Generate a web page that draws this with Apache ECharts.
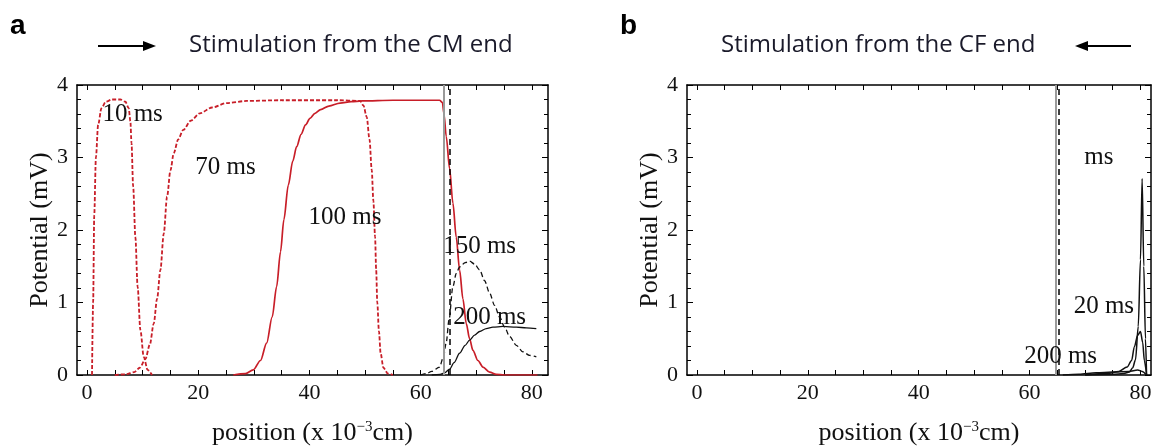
<!DOCTYPE html>
<html><head><meta charset="utf-8">
<script src="https://cdn.jsdelivr.net/npm/echarts@6/dist/echarts.min.js"></script>
<style>html,body{margin:0;padding:0;background:#fff}#c{width:1159px;height:448px}</style>
</head><body><div id="c"></div>
<script>
// ---------- data ----------
const xTickLabels = [0, 20, 40, 60, 80];
const xTicks = [0, 5, 10, 15, 20, 25, 30, 35, 40, 45, 50, 55, 60, 65, 70, 75, 80];
const yTickLabels = [0, 1, 2, 3, 4];

// panel a: stimulation from the CM end
const a10ms = [[0.9,0],[1.1,1.0],[1.3,2.2],[1.6,3.0],[2.0,3.45],[2.6,3.68],[3.4,3.77],[4.5,3.80],[6.0,3.80],[6.9,3.77],[7.5,3.68],[7.8,3.5],[8.0,3.2],[8.3,2.6],[8.7,1.9],[9.1,1.22],[9.6,0.62],[10.2,0.25],[10.9,0.07],[11.7,0]];
const a70ms = [[5,0],[7,0.01],[8.5,0.04],[9.5,0.1],[10.5,0.22],[11.3,0.42],[12,0.71],[12.6,1.05],[13.2,1.45],[13.8,1.95],[14.4,2.46],[15,2.82],[15.6,3.06],[16.4,3.25],[17.3,3.38],[18.7,3.51],[20.3,3.61],[22.5,3.69],[25.1,3.75],[28.7,3.78],[35,3.79],[45,3.79],[49.1,3.78],[49.7,3.72],[50.3,3.56],[50.8,3.25],[51.2,2.83],[51.5,2.4],[51.8,1.91],[52.0,1.45],[52.2,1.0],[52.5,0.6],[52.8,0.3],[53.3,0.1],[54.1,0.02],[55,0]];
const a100ms = [[26.3,0],[28.5,0.02],[29.9,0.07],[31.2,0.2],[32.3,0.44],[33.3,0.8],[34.1,1.22],[34.8,1.7],[35.4,2.14],[36.2,2.62],[37.0,2.95],[37.7,3.15],[38.5,3.32],[39.3,3.45],[40.1,3.54],[41.0,3.61],[42.0,3.66],[43.5,3.71],[45.5,3.75],[47.5,3.77],[49.5,3.78],[55,3.79],[63.4,3.79],[63.9,3.76],[64.2,3.6],[64.6,3.29],[65.2,2.85],[65.8,2.37],[66.4,1.9],[67.0,1.45],[67.6,1.05],[68.2,0.71],[68.8,0.5],[69.4,0.34],[70.3,0.2],[71.2,0.11],[72.4,0.04],[73.6,0.01],[75,0],[81,0]];
const a150ms = [[60,0],[61,0.02],[62,0.05],[63.4,0.11],[64.1,0.25],[64.6,0.45],[65.1,0.76],[65.8,1.22],[66.4,1.4],[67.0,1.49],[68.0,1.55],[68.8,1.57],[69.7,1.53],[70.6,1.45],[71.5,1.3],[72.4,1.13],[73.3,0.96],[74.2,0.80],[75.1,0.66],[76.0,0.53],[77.2,0.41],[78.4,0.32],[79.6,0.27],[80.8,0.25]];
const a200ms = [[62,0],[63.5,0.01],[64.3,0.03],[65.2,0.08],[66,0.17],[67,0.3],[68,0.41],[68.8,0.48],[69.7,0.55],[70.6,0.6],[71.8,0.64],[73,0.66],[74.8,0.67],[77.2,0.66],[79,0.65],[80.8,0.64]];

// panel b: stimulation from the CF end
const b10ms = [[70,0],[75,0.01],[77,0.02],[78,0.04],[78.6,0.1],[79.1,0.21],[79.6,0.67],[80.0,1.59],[80.3,2.71],[80.6,1.5],[80.9,0.5],[81.1,0]];
const b20ms = [[70,0],[74,0.02],[76.1,0.05],[77.6,0.11],[78.4,0.2],[78.9,0.39],[79.5,0.55],[80.0,0.60],[80.4,0.45],[80.7,0.2],[81.1,0]];
const b200ms = [[66,0],[68.9,0.01],[72,0.03],[75,0.04],[77.9,0.05],[79.5,0.07],[80.3,0.05],[81.1,0]];

// boundaries (vertical lines): [gray solid, black dashed]
const boundaryA = [64.2, 65.3];
const boundaryB = [64.7, 65.3];

// curve labels
const labelsA = ['10 ms', '70 ms', '100 ms', '150 ms', '200 ms'];
const labelsAX = [8.2, 24.9, 46.4, 70.6, 72.4];
const labelsAY = [3.59, 2.86, 2.18, 1.77, 0.79];
const labelsB = ['ms', '20 ms', '200 ms'];
const labelsBX = [72.5, 73.4, 65.6];
const labelsBY = [3.0, 0.94, 0.25];

// ---------- chart ----------
const SERIF = 'Liberation Serif';
const RED = '#c81e28';
const INK = '#111';
const chart = echarts.init(document.getElementById('c'));

function xAx(grid, min, max, bottom) {
  return {
    type: 'value', gridIndex: grid, min: min, max: max, position: bottom ? 'bottom' : 'top',
    axisLine: { show: true, onZero: false, lineStyle: { color: '#000', width: 1.5 } },
    axisTick: { show: true, inside: true, length: 5, customValues: xTicks, lineStyle: { color: '#000', width: 1 } },
    axisLabel: { show: bottom, customValues: xTickLabels, fontFamily: SERIF, fontSize: 22, color: INK, margin: 7 },
    splitLine: { show: false },
    name: bottom ? '{n|position (x 10}{s|\u22123}{n|cm)}' : '',
    nameLocation: 'middle', nameGap: 45,
    nameTextStyle: { rich: { n: { fontFamily: SERIF, fontSize: 26, color: INK }, s: { fontFamily: SERIF, fontSize: 15, color: INK, padding: [0, 0, 12, 0] } } }
  };
}
function yAx(grid, left) {
  return {
    type: 'value', gridIndex: grid, min: 0, max: 4, interval: 1, position: left ? 'left' : 'right',
    axisLine: { show: true, onZero: false, lineStyle: { color: '#000', width: 1.5 } },
    axisTick: { show: true, inside: true, length: 6, lineStyle: { color: '#000', width: 1 } },
    minorTick: { show: true, splitNumber: 5, length: 4, lineStyle: { color: '#000', width: 1 } },
    axisLabel: { show: left, fontFamily: SERIF, fontSize: 22, color: INK, margin: 9 },
    splitLine: { show: false }, minorSplitLine: { show: false },
    name: left ? 'Potential (mV)' : '', nameLocation: 'middle', nameGap: 23,
    nameTextStyle: { fontFamily: SERIF, fontSize: 26, color: INK }
  };
}
function line(data, xi, yi, color, type, width) {
  return { type: 'line', xAxisIndex: xi, yAxisIndex: yi, data: data, showSymbol: false, symbol: 'none',
    smooth: 0.3, smoothMonotone: 'x', lineStyle: { color: color, type: type, width: width }, silent: true, z: 3 };
}
function labels(texts, xs, ys, xi, yi, bounds) {
  return { type: 'scatter', xAxisIndex: xi, yAxisIndex: yi, symbolSize: 0, silent: true, z: 5,
    itemStyle: { opacity: 1 },
    data: texts.map((t, i) => ({ name: t, value: [xs[i], ys[i]] })),
    label: { show: true, position: 'inside', formatter: p => p.name, fontFamily: SERIF, fontSize: 25,
      color: INK, textBorderWidth: 0, opacity: 1 },
    markLine: { symbol: 'none', silent: true, label: { show: false }, animation: false,
      data: [
        { xAxis: bounds[0], lineStyle: { color: '#9a9a9a', width: 2, type: 'solid' } },
        { xAxis: bounds[1], lineStyle: { color: '#000', width: 1.5, type: [6, 4] } }
      ] }
  };
}

const option = {
  animation: false,
  backgroundColor: '#fff',
  grid: [
    { left: 77, right: 611, top: 85, bottom: 73, outerBoundsMode: 'none', containLabel: false },
    { left: 687, right: 8, top: 85, bottom: 73, outerBoundsMode: 'none', containLabel: false }
  ],
  xAxis: [xAx(0, -1.8, 82.9, true), xAx(0, -1.8, 82.9, false), xAx(1, -1.8, 81.9, true), xAx(1, -1.8, 81.9, false)],
  yAxis: [yAx(0, true), yAx(0, false), yAx(1, true), yAx(1, false)],
  series: [
    line(a10ms, 0, 0, RED, [4, 2], 1.8),
    line(a70ms, 0, 0, RED, [4, 2], 1.8),
    line(a100ms, 0, 0, RED, 'solid', 1.7),
    line(a150ms, 0, 0, '#111', [5, 3], 1.3),
    line(a200ms, 0, 0, '#111', 'solid', 1.3),
    labels(labelsA, labelsAX, labelsAY, 0, 0, boundaryA),
    line(b10ms, 2, 2, '#111', 'solid', 1.5),
    line(b20ms, 2, 2, '#111', 'solid', 1.5),
    line(b200ms, 2, 2, '#111', 'solid', 1.5),
    labels(labelsB, labelsBX, labelsBY, 2, 2, boundaryB)
  ],
  graphic: [
    { type: 'text', left: 10, top: 12, style: { text: 'a', font: 'bold 28px "Liberation Sans"', fill: '#000' } },
    { type: 'text', left: 620, top: 12, style: { text: 'b', font: 'bold 28px "Liberation Sans"', fill: '#000' } },
    { type: 'text', left: 189, top: 33, style: { text: 'Stimulation from the CM end', font: '24px "Open Sans"', fill: '#1a1a2a' } },
    { type: 'text', left: 721, top: 33, style: { text: 'Stimulation from the CF end', font: '24px "Open Sans"', fill: '#1a1a2a' } },
    { type: 'line', shape: { x1: 98, y1: 46, x2: 146, y2: 46 }, style: { stroke: '#000', lineWidth: 1.8 } },
    { type: 'polygon', shape: { points: [[156, 46], [143, 41], [143, 51]] }, style: { fill: '#000' } },
    { type: 'line', shape: { x1: 1085, y1: 46, x2: 1131, y2: 46 }, style: { stroke: '#000', lineWidth: 1.8 } },
    { type: 'polygon', shape: { points: [[1075, 46], [1088, 41], [1088, 51]] }, style: { fill: '#000' } }
  ]
};
chart.setOption(option);
</script>
</body></html>
